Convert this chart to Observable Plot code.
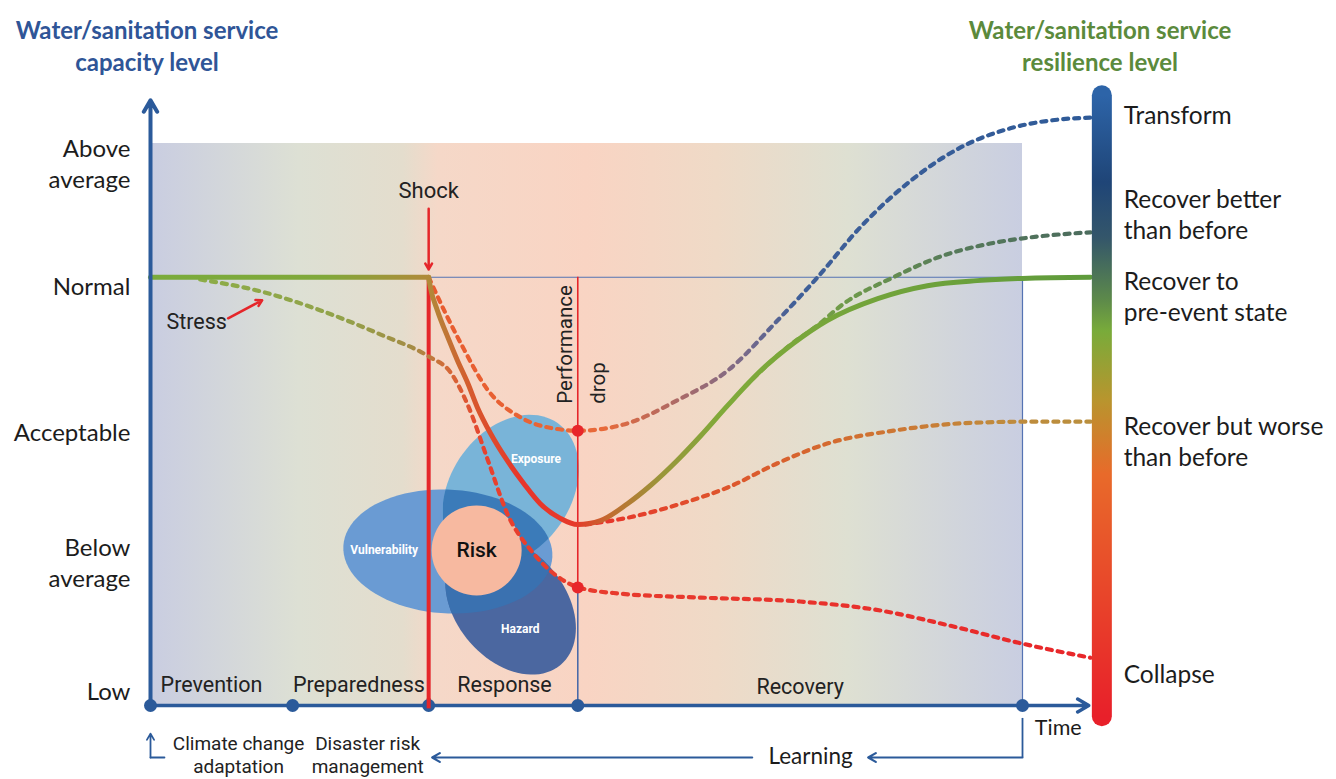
<!DOCTYPE html>
<html><head><meta charset="utf-8">
<script src="https://cdn.jsdelivr.net/npm/d3@7"></script>
<script src="https://cdn.jsdelivr.net/npm/@observablehq/plot@0.6"></script>
<style>
html,body{margin:0;padding:0;background:#fff;overflow:hidden;}
#wrap{position:relative;width:1336px;height:779px;}
#wrap svg{position:absolute;left:0;top:0;}
.title{position:absolute;top:14px;font-family:Lato,"Open Sans",sans-serif;font-weight:700;font-size:24px;line-height:32px;text-align:center;width:340px;}
</style></head><body>
<div id="wrap">
<div class="title" style="left:-23px;color:#2f5597">Water/sanitation service<br>capacity level</div>
<div class="title" style="left:930px;color:#5b8a3c">Water/sanitation service<br>resilience level</div>
</div>
<script>
// ---------- data (time units 0..100 across the framed period, level units 0..100) ----------
const levelNames = ["Low", "Below\naverage", "Acceptable", "Normal", "Above\naverage"];
const levelY = [2.7, 25.6, 48.8, 74.9, 96.6];
const normalLevel = 76.2;

const phaseNames = ["Prevention", "Preparedness", "Response", "Recovery"];
const phaseLabelX = [7.0, 23.9, 40.6, 74.5];
const phaseLabelY = [3.7, 3.7, 3.7, 3.2];
const phaseBounds = [0, 16.3, 31.9, 49.0, 100];
const shockT = 31.9, dropT = 49.0, endT = 100;

const preShockT = [0, 31.9];
const preShockV = [76.2, 76.2];
const recoverT = [31.9,32.1,32.9,34.1,35.2,36.4,37.5,39.0,40.9,42.8,44.7,47.0,49.0,51.6,54.7,57.3,60.4,63.1,66.2,70.0,73.7,77.6,83.4,89.1,94.8,100,107.8];
const recoverV = [76.2,74.4,70.3,65.5,61.4,57.3,53.0,48.4,43.6,39.5,35.9,33.3,32.2,32.9,35.9,39.1,43.6,48.0,53.4,59.6,64.4,68.5,72.4,74.7,75.6,76.0,76.2];
const transformT = [31.9,33.8,35.6,38.7,42.4,46.2,49.1,54.7,60.4,66.2,71.9,76.5,81.4,87.2,92.9,98.6,104.4,107.8];
const transformV = [76.2,69.9,64.4,56.1,51.3,49.3,48.9,50.2,54.3,59.6,68.5,76.2,85.1,93.4,99.3,102.7,104.3,104.6];
const betterT = [68.2,73.4,76.3,79.5,85.2,90.6,96.3,102.1,107.8];
const betterV = [56.8,64.2,67.4,71.5,76.2,79.9,82.2,83.5,84.2];
const worseT = [49.9,55.0,60.8,66.2,71.9,77.6,85.2,92.9,100.6,107.8];
const worseV = [32.2,33.5,35.9,38.8,43.1,46.6,48.9,50.2,50.5,50.5];
const collapseT = [5.7,12.6,19.5,26.4,31.9,34.4,36.4,38.7,40.9,43.9,47.0,49.1,53.9,63.1,74.5,83.7,91.7,100,107.8];
const collapseV = [75.8,73.7,70.3,66.0,62.1,59.3,53.4,43.6,34.2,27.1,22.6,21.0,19.9,19.2,18.5,16.9,14.2,11.0,8.5];
const dropDotsV = [48.9, 21.0];

const outcomeNames = ["Transform", "Recover better\nthan before", "Recover to\npre-event state", "Recover but worse\nthan before", "Collapse"];
const outcomeY = [105.3, 87.5, 73.0, 47.2, 5.7];
const barT = 109.1, barTop = 108.5, barBottom = -2.0;

const vennNames = ["Vulnerability", "Exposure", "Hazard"];
const vennCX = [34.1, 41.3, 41.3];
const vennCY = [27.4, 38.3, 17.8];
const vennA = [12.0, 9.4, 8.9];
const vennB = [7.1, 6.9, 6.3];
const vennTilt = [-3, 55, -50];
const vennLabelX = [26.8, 44.2, 42.4];
const vennLabelY = [27.6, 43.8, 13.5];
const riskX = [37.4], riskY = [27.6];

// ---------- layout ----------
const W = 1336, H = 779, mL = 150, mR = 314, mT = 143, mB = 74;
const kx = (W - mL - mR) / 100, ky = (H - mT - mB) / 100;
const rows = (xs, ys) => xs.map((x, i) => ({x, y: ys[i]}));
function outline(i) {
  const pts = [], th = vennTilt[i] * Math.PI / 180;
  for (let k = 0; k <= 90; k++) {
    const u = k / 90 * 2 * Math.PI;
    const ex = vennA[i] * Math.cos(u), ey = vennB[i] * Math.sin(u);
    const dx = ex * Math.cos(th) - ey * Math.sin(th);
    const dy = ex * Math.sin(th) + ey * Math.cos(th);
    pts.push({x: vennCX[i] + dx, y: vennCY[i] + dy * kx / ky});
  }
  return pts;
}
const blue = "#2b5a9a", red = "#e5262a";
const dash = {strokeWidth: 4.2, strokeDasharray: "5 6", curve: "monotone-x"};
const lab = {fontFamily: "Lato, 'Open Sans', sans-serif", fill: "#1c1c1c"};
const rob = {fontFamily: "Roboto, sans-serif", fill: "#222"};
const venn = (i, fill, tag) => Plot.line(outline(i), {x: "x", y: "y", fill, stroke: "none", ariaDescription: tag});

const svg = Plot.plot({
  width: W, height: H, marginLeft: mL, marginRight: mR, marginTop: mT, marginBottom: mB,
  x: {domain: [0, 100], axis: null},
  y: {domain: [0, 100], axis: null},
  style: {background: "transparent", overflow: "visible"},
  marks: [
    Plot.rect([{t0: phaseBounds[0], t1: endT, v0: 0, v1: 100}], {x1: "t0", x2: "t1", y1: "v0", y2: "v1", fill: "url(#bgGrad)"}),
    Plot.ruleY([normalLevel], {x1: shockT, x2: endT, stroke: "#5573b3", strokeWidth: 1.2}),
    Plot.ruleX([endT], {y1: 0, y2: normalLevel, stroke: "#5573b3", strokeWidth: 1.2}),
    // Venn: three sets, then their pairwise overlaps (clipped after rendering)
    venn(0, "#6a9bd3", "venn-vulnerability"),
    venn(1, "#79b4d8", "venn-exposure"),
    venn(2, "#4b67a0", "venn-hazard"),
    venn(0, "#3b7bb9", "overlap-ve"),
    venn(0, "#3a71b0", "overlap-vh"),
    venn(1, "#3673ae", "overlap-eh"),
    Plot.dot(rows(riskX, riskY), {x: "x", y: "y", r: 45, fill: "#f7b9a0", stroke: "none"}),
    Plot.text(vennNames, {x: (d, i) => vennLabelX[i], y: (d, i) => vennLabelY[i], text: d => d, fill: "white", fontWeight: 700, fontSize: 12, fontFamily: "Roboto, sans-serif"}),
    Plot.text(["Risk"], {x: riskX[0], y: riskY[0], text: d => d, fontSize: 21, fontWeight: 500, fontFamily: "Roboto, sans-serif", fill: "#111"}),
    // shock and performance drop lines
    Plot.ruleX([shockT], {y1: 0, y2: normalLevel, stroke: red, strokeWidth: 4}),
    Plot.ruleX([dropT], {y1: dropDotsV[1], y2: normalLevel, stroke: red, strokeWidth: 1.6}),
    Plot.ruleX([dropT], {y1: 0, y2: dropDotsV[1], stroke: "#4a6aa8", strokeWidth: 1.6}),
    // pathways
    Plot.line(rows(collapseT, collapseV), {x: "x", y: "y", stroke: "url(#gCollapse)", ...dash}),
    Plot.line(rows(transformT, transformV), {x: "x", y: "y", stroke: "url(#gTransform)", ...dash}),
    Plot.line(rows(betterT, betterV), {x: "x", y: "y", stroke: "url(#gBetter)", ...dash}),
    Plot.line(rows(worseT, worseV), {x: "x", y: "y", stroke: "url(#gWorse)", ...dash}),
    Plot.line(rows(preShockT, preShockV), {x: "x", y: "y", stroke: "url(#gMain)", strokeWidth: 5}),
    Plot.line(rows(recoverT, recoverV), {x: "x", y: "y", stroke: "url(#gMain)", strokeWidth: 5, curve: "monotone-x"}),
    Plot.dot(dropDotsV, {x: dropT, y: d => d, r: 6, fill: "#e8262a"}),
    // axes
    Plot.arrow([0], {x1: 0, y1: 0, x2: 0, y2: 107.7, stroke: blue, strokeWidth: 4, headLength: 5}),
    Plot.arrow([0], {x1: 0, y1: 0, x2: 107.6, y2: 0, stroke: blue, strokeWidth: 3.5, headLength: 5.5}),
    Plot.dot(phaseBounds, {x: d => d, y: 0, r: 6.5, fill: blue}),
    Plot.ruleX([shockT], {y1: -0.6, y2: 1.2, stroke: red, strokeWidth: 4}),
    Plot.text(levelNames, {x: -2.3, y: (d, i) => levelY[i], text: d => d, textAnchor: "end", fontSize: 24, lineHeight: 1.3, ...lab}),
    Plot.text(phaseNames, {x: (d, i) => phaseLabelX[i], y: (d, i) => phaseLabelY[i], text: d => d, fontSize: 21.5, ...rob}),
    // annotations
    Plot.arrow([0], {x1: shockT, y1: 88.4, x2: shockT, y2: 77.6, stroke: red, strokeWidth: 2.5, headLength: 4}),
    Plot.text(["Shock"], {x: shockT, y: 91.5, text: d => d, fontSize: 22, ...rob}),
    Plot.arrow([0], {x1: 8.9, y1: 68.9, x2: 12.8, y2: 72.1, stroke: red, strokeWidth: 2.5, headLength: 4}),
    Plot.text(["Stress"], {x: 5.3, y: 68.3, text: d => d, fontSize: 21.5, ...rob}),
    Plot.text(["Performance\ndrop"], {x: dropT, y: 53.7, text: d => d, rotate: -90, textAnchor: "start", lineAnchor: "middle", lineHeight: 1.6, fontSize: 20.5, ...rob}),
    // legend bar
    Plot.ruleX([barT], {y1: barBottom, y2: barTop, stroke: "url(#gLegend)", strokeWidth: 20, strokeLinecap: "round"}),
    Plot.text(outcomeNames, {x: 111.6, y: (d, i) => outcomeY[i], text: d => d, textAnchor: "start", fontSize: 24.5, lineHeight: 1.27, ...lab}),
    // bottom
    Plot.text(["Time"], {x: 104.1, y: -4.1, text: d => d, fontSize: 21.5, ...lab}),
    Plot.ruleX([endT], {y1: -2.3, y2: -9.25, stroke: blue, strokeWidth: 1.8}),
    Plot.arrow([0], {x1: endT, y1: -9.25, x2: 82.3, y2: -9.25, stroke: blue, strokeWidth: 2.2, headLength: 6}),
    Plot.text(["Learning"], {x: 75.7, y: -9.1, text: d => d, fontSize: 22.5, ...lab}),
    Plot.arrow([0], {x1: 69.0, y1: -9.25, x2: 32.3, y2: -9.25, stroke: blue, strokeWidth: 2.2, headLength: 6}),
    Plot.line([{x: 1.6, y: -9.25}, {x: 0, y: -9.25}], {x: "x", y: "y", stroke: blue, strokeWidth: 1.8}),
    Plot.arrow([0], {x1: 0, y1: -9.25, x2: 0, y2: -5.0, stroke: blue, strokeWidth: 1.8, headLength: 6}),
    Plot.text(["Climate change\nadaptation", "Disaster risk\nmanagement"], {x: (d, i) => [10.1, 24.9][i], y: -8.7, text: d => d, fontSize: 19, lineHeight: 1.17, ...rob})
  ]
});

// gradients and Venn overlap clipping (styling)
const S = d3.select(svg);
const defs = S.insert("defs", ":first-child");
const px = t => mL + t * kx, py = v => mT + (100 - v) * ky;
function hGrad(id, stops) {
  const g = defs.append("linearGradient").attr("id", id).attr("gradientUnits", "userSpaceOnUse")
    .attr("x1", px(0)).attr("x2", px(110)).attr("y1", 0).attr("y2", 0);
  stops.forEach(([t, c]) => g.append("stop").attr("offset", t / 110).attr("stop-color", c));
}
hGrad("gMain", [[0,"#7aab3c"],[20,"#80a83a"],[31.9,"#b08a3a"],[36.7,"#d65a2e"],[42.4,"#e8352a"],[48.7,"#e63a2a"],[52.8,"#c06e30"],[58.5,"#9a963a"],[65.4,"#80aa3a"],[110,"#5d9a3c"]]);
hGrad("gCollapse", [[5,"#8cad48"],[22,"#92a24a"],[30,"#a48c44"],[34,"#d46a38"],[38.5,"#e8402e"],[110,"#e8262a"]]);
hGrad("gTransform", [[31.9,"#e85a2e"],[52,"#e86a3a"],[61,"#a86a6a"],[68,"#7a6a8a"],[74,"#3f5f98"],[110,"#2d5a98"]]);
hGrad("gBetter", [[68,"#86a83a"],[80,"#6e9a4a"],[92,"#567a5a"],[110,"#4a6a5e"]]);
hGrad("gWorse", [[50,"#e8302a"],[63,"#e0502c"],[80,"#d26e30"],[97,"#c08a3c"],[110,"#b8903e"]]);
const bg = defs.append("linearGradient").attr("id", "bgGrad");
[[0,"#c9cde1"],[0.17,"#dde0d4"],[0.29,"#e4ddcd"],[0.33,"#f5d8c8"],[0.5,"#f9d4c3"],[0.65,"#efdac7"],[0.8,"#dee0d2"],[1,"#c9cee1"]]
  .forEach(([o, c]) => bg.append("stop").attr("offset", o).attr("stop-color", c));
const lg = defs.append("linearGradient").attr("id", "gLegend").attr("gradientUnits", "userSpaceOnUse")
  .attr("x1", 0).attr("x2", 0).attr("y1", py(barTop)).attr("y2", py(barBottom));
[[0,"#2d64a8"],[0.14,"#1f4577"],[0.23,"#34566a"],[0.33,"#5d8a4a"],[0.38,"#79ab3a"],[0.49,"#b8952e"],[0.61,"#e86a2a"],[1,"#e8202a"]]
  .forEach(([o, c]) => lg.append("stop").attr("offset", o).attr("stop-color", c));
// Venn groups are the fill-only line marks, in mark order: V, E, H, V∩E, V∩H, E∩H
const vennGroups = S.selectAll('g[aria-description]').nodes();
const byTag = tag => vennGroups.find(g => g.getAttribute("aria-description") === tag);
function clipFrom(tag, id) {
  const g = byTag(tag); if (!g) return;
  const p = g.querySelector("path"); if (!p) return;
  defs.append("clipPath").attr("id", id).append("path").attr("d", p.getAttribute("d"));
}
clipFrom("venn-exposure", "clipE");
clipFrom("venn-hazard", "clipH");
[["overlap-ve", "clipE"], ["overlap-vh", "clipH"], ["overlap-eh", "clipH"]].forEach(([tag, id]) => {
  const g = byTag(tag);
  if (g) g.setAttribute("clip-path", `url(#${id})`);
  else S.selectAll("g").filter(function () { return false; });
});

const wrap = document.getElementById("wrap");
wrap.insertBefore(svg, wrap.firstChild);
</script>
</body></html>
